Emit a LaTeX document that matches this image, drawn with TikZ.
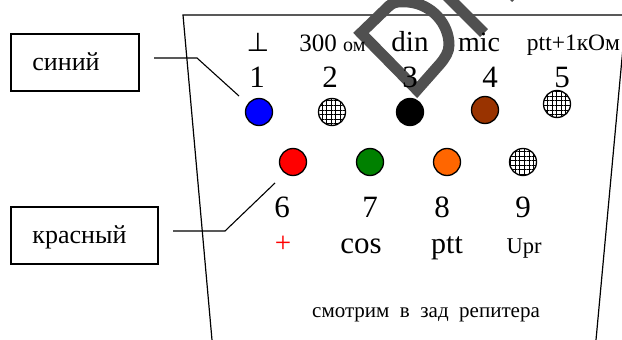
\documentclass[tikz,border=0pt]{standalone}
\usepackage{fontspec}
\setmainfont{Liberation Serif}
\newfontfamily\symfont{DejaVu Sans}
\usepackage{xcolor}
\usetikzlibrary{patterns.meta}
\definecolor{pinblue}{RGB}{0,0,255}
\definecolor{pinbrown}{RGB}{153,51,0}
\definecolor{pingreen}{RGB}{0,128,0}
\definecolor{pinorange}{RGB}{255,102,0}
\definecolor{markgray}{RGB}{80,80,80}
\tikzset{
  pin/.style={circle,draw=black,line width=1.3pt,minimum size=27pt,inner sep=0pt},
  meshpin/.style={pin,pattern={Hatch[angle=0,distance=4.6pt,line width=.8pt]}},
  labelbox/.style={draw=black,line width=1.2pt,inner sep=0pt},
  caption/.style={inner sep=0pt,anchor=base},
  lead/.style={line width=1.1pt},
  housing/.style={line width=1.2pt},
  stamp/.style={draw=markgray,line width=11pt,line join=miter}
}
\newcommand{\fs}[1]{\fontsize{#1pt}{#1pt}\selectfont}
\begin{document}
\begin{tikzpicture}[x=1pt,y=-1pt]
    \useasboundingbox (0,0) rectangle (622,340);
    \clip (0,0) rectangle (622,340);
    % housing
    \coordinate (hTL) at (183,15);
    \coordinate (hTR) at (626,15);
    \coordinate (hBL) at (212,340);
    \coordinate (hBR) at (596,340);
    \draw[housing] (hBL) -- (hTL) -- (hTR) -- (hBR);
    % stamp over the top edge
    \draw[stamp] (417,90) -- (361,33) -- (389,6) .. controls (396,0) and (402,2) .. (408,2) .. controls (432,4) and (449,24) .. (449,45) .. controls (449,52) and (445,58) .. (440,64) -- cycle;
    \draw[stamp] (445,-6) -- (484,33);
    \draw[stamp] (512,-6) -- (516,-2);
    % boxes
    \node[labelbox,minimum width=128pt,minimum height=57pt] (bluebox) at (75,62.5) {};
    \node[labelbox,minimum width=147pt,minimum height=57pt] (redbox) at (84.5,235.5) {};
    \node[caption] (bluetxt) at (66,70) {\fs{26}синий};
    \node[caption] (redtxt) at (79.5,243) {\fs{26}красный};
    % pins, upper row
    \node[pin,fill=pinblue] (p1) at (259,112) {};
    \node[meshpin] (p2) at (332,112) {};
    \node[pin,fill=black] (p3) at (410,112) {};
    \node[pin,fill=pinbrown] (p4) at (485,110) {};
    \node[meshpin] (p5) at (557,104) {};
    % pins, lower row
    \node[pin,fill=red] (p6) at (293,162) {};
    \node[pin,fill=pingreen] (p7) at (370,162) {};
    \node[pin,fill=pinorange] (p8) at (447,162) {};
    \node[meshpin] (p9) at (523,162) {};
    % leaders
    \coordinate (blueS) at (154,58);
    \coordinate (blueB) at (197,58);
    \coordinate (blueE) at (239,96);
    \coordinate (redS) at (173,231);
    \coordinate (redB) at (225,231);
    \coordinate (redE) at (275,183);
    \draw[lead] (blueS) -- (blueB) -- (blueE);
    \draw[lead] (redS) -- (redB) -- (redE);
    % upper texts
    \node[caption] (tgnd) at (258,51) {\symfont\fs{26}⊥};
    \node[caption] (t300) at (332.5,51) {\fs{25}300 {\fs{20}ом}};
    \node[caption] (tdin) at (410,51) {\fs{29}din};
    \node[caption] (tmic) at (479,51) {\fs{28}mic};
    \node[caption] (tptt) at (573.5,50) {\fs{23.5}ptt+1кОм};
    \foreach \n/\x in {1/257,2/330,3/410,4/490,5/562}
        \node[caption] (d\n) at (\x,87) {\fs{31}\n};
    % lower texts
    \foreach \n/\x in {6/282,7/370,8/442,9/523}
        \node[caption] (d\n) at (\x,217) {\fs{31}\n};
    \node[caption,text=red] (tplus) at (283,252) {\fs{29}+};
    \node[caption] (tcos) at (361,253) {\fs{31}cos};
    \node[caption] (tpttb) at (447,253) {\fs{30}ptt};
    \node[caption] (tupr) at (524,253) {\fs{22.5}Upr};
    \node[caption] (tnote) at (426,317) {\fs{21}смотрим\ \ в\ \ зад\ \ репитера};
\end{tikzpicture}
\end{document}
